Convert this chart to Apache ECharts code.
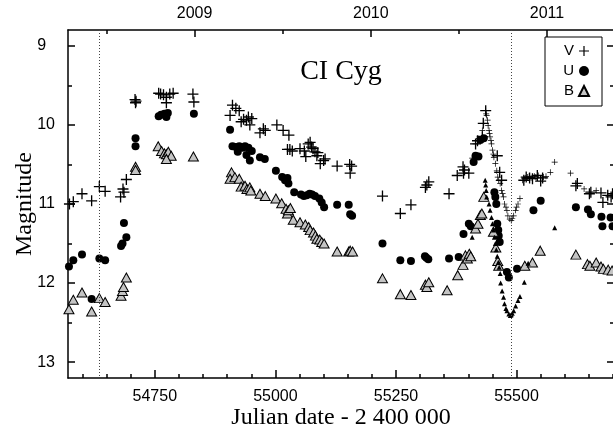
<!DOCTYPE html>
<html lang="en">
<head>
    <meta charset="UTF-8" />
    <title>CI Cyg</title>
    <script src="https://cdn.jsdelivr.net/npm/echarts@6/dist/echarts.min.js"></script>
    <style>
        html, body { margin: 0; padding: 0; background: #fff; }
        #main { width: 613px; height: 438px; }
    </style>
</head>
<body>
<div id="main"></div>
<script type="text/javascript">
    // [JD - 2400000, magnitude]
    var vData = [
        [54573, 11.00], [54581, 10.97], [54599, 10.87], [54619, 10.96], [54635, 10.78], [54647, 10.84],
        [54679, 10.91], [54684, 10.81], [54686, 10.85], [54691, 10.69], [54709, 9.68], [54710, 9.72],
        [54711, 9.70], [54758, 9.60], [54762, 9.61], [54768, 9.62], [54774, 9.65], [54774, 9.72],
        [54781, 9.61], [54788, 9.60], [54829, 9.61], [54831, 9.71], [54906, 9.88], [54911, 9.75],
        [54918, 9.79], [54925, 9.82], [54929, 9.96], [54934, 9.93], [54940, 9.94], [54944, 9.90],
        [54947, 10.00], [54951, 9.92], [54968, 10.10], [54975, 10.05], [54979, 10.07], [55003, 10.00],
        [55016, 10.07], [55028, 10.13], [55025, 10.31], [55030, 10.31], [55035, 10.33], [55051, 10.30],
        [55060, 10.33], [55063, 10.40], [55068, 10.24], [55072, 10.22], [55075, 10.28], [55078, 10.30],
        [55082, 10.34], [55086, 10.39], [55088, 10.35], [55093, 10.49], [55100, 10.45], [55103, 10.43],
        [55128, 10.52], [55154, 10.50], [55158, 10.52], [55155, 10.61], [55222, 10.90], [55259, 11.12],
        [55281, 11.01], [55311, 10.79], [55314, 10.76], [55318, 10.72], [55360, 10.87], [55377, 10.64],
        [55389, 10.53], [55390, 10.61], [55392, 10.57], [55401, 10.61], [55415, 10.24], [55419, 10.20],
        [55429, 10.15], [55431, 9.98], [55436, 9.82], [55460, 10.39], [55465, 10.60], [55469, 10.70],
        [55515, 10.70], [55520, 10.66], [55527, 10.67], [55533, 10.68], [55543, 10.64], [55550, 10.71],
        [55554, 10.67], [55623, 10.77], [55626, 10.74], [55651, 10.87], [55654, 10.85], [55675, 10.86],
        [55679, 10.98], [55689, 10.89], [55696, 10.91], [55699, 10.87]
    ];
    var vDense = [
        [55408, 10.42], [55415, 10.24], [55422, 10.17], [55429, 10.07], [55432, 9.98], [55436, 9.82],
        [55437, 9.86], [55438, 9.88], [55440, 9.94], [55441, 10.01], [55443, 10.07], [55444, 10.11],
        [55445, 10.15], [55447, 10.20], [55448, 10.24], [55450, 10.32], [55452, 10.37], [55453, 10.41],
        [55456, 10.49], [55459, 10.58], [55461, 10.66], [55463, 10.70], [55466, 10.74], [55469, 10.83],
        [55471, 10.87], [55473, 10.91], [55475, 11.00], [55478, 11.04], [55480, 11.08], [55482, 11.15],
        [55486, 11.19], [55489, 11.21], [55491, 11.18], [55494, 11.15], [55498, 11.08], [55500, 11.04],
        [55503, 11.00], [55507, 10.93], [55512, 10.70], [55516, 10.68], [55519, 10.67], [55523, 10.66],
        [55526, 10.65], [55530, 10.67], [55533, 10.67], [55537, 10.65], [55540, 10.66], [55545, 10.64],
        [55550, 10.67], [55556, 10.66], [55561, 10.65], [55570, 10.60], [55579, 10.47], [55612, 10.61],
        [55640, 10.81], [55665, 10.83]
    ];
    var uData = [
        [54572, 11.79], [54581, 11.71], [54599, 11.64], [54619, 12.20], [54635, 11.69], [54647, 11.71],
        [54680, 11.53], [54683, 11.50], [54686, 11.24], [54691, 11.42], [54710, 10.17], [54710, 10.27],
        [54758, 9.89], [54763, 9.87], [54770, 9.86], [54774, 9.90], [54777, 9.85], [54831, 9.86],
        [54906, 10.06], [54911, 10.27], [54918, 10.28], [54922, 10.34], [54925, 10.27], [54932, 10.29],
        [54937, 10.27], [54940, 10.38], [54944, 10.29], [54947, 10.45], [54951, 10.33], [54968, 10.41],
        [54978, 10.43], [55001, 10.58], [55014, 10.66], [55020, 10.70], [55025, 10.67], [55027, 10.74],
        [55039, 10.85], [55053, 10.88], [55059, 10.90], [55065, 10.89], [55071, 10.87], [55076, 10.88],
        [55082, 10.90], [55091, 10.93], [55096, 10.98], [55101, 11.04], [55128, 11.01], [55152, 11.01],
        [55155, 11.13], [55159, 11.15], [55222, 11.50], [55259, 11.71], [55281, 11.72], [55310, 11.66],
        [55313, 11.68], [55317, 11.70], [55360, 11.69], [55380, 11.67], [55390, 11.38], [55401, 11.25],
        [55405, 11.28], [55411, 10.47], [55415, 10.39], [55421, 10.40], [55425, 10.19], [55432, 10.17],
        [55454, 10.85], [55456, 10.91], [55458, 11.00], [55460, 11.25], [55462, 11.33], [55463, 11.40],
        [55465, 11.48], [55480, 11.86], [55484, 11.93], [55501, 11.82], [55535, 11.08], [55550, 10.96],
        [55623, 11.04], [55648, 11.07], [55654, 11.13], [55676, 11.16], [55678, 11.28], [55695, 11.17],
        [55699, 11.28]
    ];
    var bData = [
        [54572, 12.33], [54581, 12.21], [54599, 12.12], [54619, 12.36], [54635, 12.19], [54647, 12.24],
        [54680, 12.16], [54683, 12.10], [54685, 12.05], [54691, 11.93], [54710, 10.53], [54710, 10.57],
        [54757, 10.27], [54764, 10.33], [54770, 10.36], [54774, 10.37], [54778, 10.34], [54784, 10.39],
        [54774, 10.43], [54830, 10.40], [54909, 10.60], [54906, 10.68], [54916, 10.66], [54925, 10.68],
        [54929, 10.78], [54937, 10.77], [54941, 10.81], [54947, 10.79], [54949, 10.83], [54968, 10.87],
        [54979, 10.90], [55001, 10.93], [55013, 10.99], [55022, 11.06], [55025, 11.12], [55027, 11.08],
        [55031, 11.05], [55037, 11.20], [55051, 11.23], [55062, 11.26], [55069, 11.29], [55072, 11.33],
        [55079, 11.36], [55083, 11.40], [55086, 11.44], [55092, 11.45], [55096, 11.48], [55101, 11.50],
        [55128, 11.60], [55152, 11.60], [55155, 11.59], [55160, 11.60], [55222, 11.94], [55259, 12.14],
        [55281, 12.15], [55311, 12.02], [55314, 12.05], [55318, 11.99], [55356, 12.09], [55378, 11.90],
        [55389, 11.77], [55394, 11.65], [55398, 11.69], [55402, 11.63], [55405, 11.66], [55415, 11.31],
        [55420, 11.25], [55425, 11.14], [55428, 11.12], [55432, 10.91], [55452, 11.35], [55457, 11.55],
        [55461, 11.72], [55463, 11.78], [55517, 11.78], [55533, 11.74], [55549, 11.59], [55623, 11.64],
        [55647, 11.76], [55652, 11.78], [55665, 11.74], [55675, 11.79], [55680, 11.82], [55690, 11.83],
        [55698, 11.84]
    ];
    var bDense = [
        [55408, 11.42], [55435, 10.70], [55436, 10.76], [55437, 10.83], [55438, 10.91], [55443, 11.00],
        [55445, 11.08], [55448, 11.17], [55450, 11.25], [55452, 11.33], [55454, 11.42], [55456, 11.50],
        [55458, 11.58], [55460, 11.66], [55462, 11.74], [55464, 11.80], [55466, 11.88], [55467, 12.00],
        [55470, 12.10], [55473, 12.18], [55475, 12.26], [55478, 12.32], [55480, 12.35], [55484, 12.39],
        [55487, 12.41], [55489, 12.40], [55491, 12.38], [55494, 12.35], [55498, 12.29], [55503, 12.22],
        [55507, 12.17], [55516, 11.99], [55524, 11.75], [55579, 11.30]
    ];
    var dottedDates = [54634, 55488];

    var xRange = [54570, 55702];
    var yRange = [8.8, 13.2];
    var xMajorTicks = [54750, 55000, 55250, 55500];
    var xMinorTicks = [54600, 54650, 54700, 54800, 54850, 54900, 54950, 55050, 55100, 55150,
        55200, 55300, 55350, 55400, 55450, 55550, 55600, 55650, 55700];
    var yearTicks = [2009, 2010, 2011];
    var halfYearTicks = [2008.5, 2009.5, 2010.5];
    var yMajorTicks = [9, 10, 11, 12, 13];
    var yMinorTicks = [9.5, 10.5, 11.5, 12.5];

    // JD of 2009-01-01 is 2454832.5
    function toYear(jd) { return 2009 + (jd - 54832.5) / 365.25; }
    function plain(v) { return String(Math.round(v)); }
    // single digits sit flush left like the two-digit labels (figure space pad)
    function magLabel(v) { var s = plain(v); return s.length < 2 ? s + '\u2007' : s; }

    var plusPath = 'path://M4.4,0H5.6V4.4H10V5.6H5.6V10H4.4V5.6H0V4.4H4.4Z';
    var lineStyle = { color: '#000', width: 1.5 };
    var nameFont = { color: '#000', fontFamily: 'Liberation Serif', fontSize: 24 };

    function xAx(pos, ticks, len, opts) {
        var a = {
            type: 'value', gridIndex: 0, position: pos,
            min: xRange[0], max: xRange[1],
            splitLine: { show: false },
            axisLine: { show: false, onZero: false },
            axisTick: { show: true, inside: true, length: len, customValues: ticks, lineStyle: lineStyle },
            axisLabel: { show: false }
        };
        return Object.assign(a, opts || {});
    }
    function yAx(pos, ticks, len, opts) {
        var a = {
            type: 'value', gridIndex: 0, position: pos, inverse: true,
            min: yRange[0], max: yRange[1],
            splitLine: { show: false },
            axisLine: { show: false, onZero: false },
            axisTick: { show: true, inside: true, length: len, customValues: ticks, lineStyle: lineStyle },
            axisLabel: { show: false }
        };
        return Object.assign(a, opts || {});
    }

    var chart = echarts.init(document.getElementById('main'), null, { renderer: 'canvas' });
    chart.setOption({
        animation: false,
        backgroundColor: '#fff',
        grid: { left: 68, top: 30, width: 546, height: 348, containLabel: false, outerBoundsMode: 'none' },
        graphic: [{
            type: 'text', x: 341, y: 72,
            style: {
                text: 'CI Cyg', fill: '#000', fontFamily: 'Liberation Serif', fontSize: 28,
                textAlign: 'center', textVerticalAlign: 'middle'
            }
        }],
        legend: {
            data: ['V', 'U', 'B'],
            orient: 'vertical', align: 'right',
            left: 545, top: 37,
            padding: [6, 12, 7, 10],
            itemGap: 4, itemWidth: 10, itemHeight: 10,
            borderColor: '#000', borderWidth: 1, borderRadius: 0,
            backgroundColor: '#fff',
            selectedMode: false,
            textStyle: { color: '#000', fontFamily: 'Liberation Sans', fontSize: 15, lineHeight: 16, width: 19 }
        },
        xAxis: [
            xAx('bottom', xMajorTicks, 8, {
                name: 'Julian date - 2 400 000', nameLocation: 'middle', nameGap: 28, nameMoveOverlap: false,
                nameTextStyle: nameFont,
                axisLine: { show: true, onZero: false, lineStyle: lineStyle },
                axisLabel: {
                    show: true, customValues: xMajorTicks, margin: 11, formatter: plain,
                    fontFamily: 'Liberation Sans', fontSize: 16, color: '#000'
                }
            }),
            xAx('bottom', xMinorTicks, 4),
            {
                type: 'value', gridIndex: 0, position: 'top',
                min: toYear(xRange[0]), max: toYear(xRange[1]),
                splitLine: { show: false },
                axisLine: { show: true, onZero: false, lineStyle: lineStyle },
                axisTick: { show: true, inside: true, length: 7, customValues: yearTicks, lineStyle: lineStyle },
                axisLabel: {
                    show: true, customValues: yearTicks, margin: 8, formatter: plain,
                    fontFamily: 'Liberation Sans', fontSize: 16, color: '#000'
                }
            },
            {
                type: 'value', gridIndex: 0, position: 'top',
                min: toYear(xRange[0]), max: toYear(xRange[1]),
                splitLine: { show: false },
                axisLine: { show: false },
                axisTick: { show: true, inside: true, length: 4, customValues: halfYearTicks, lineStyle: lineStyle },
                axisLabel: { show: false }
            }
        ],
        yAxis: [
            yAx('left', yMajorTicks, 7, {
                name: 'Magnitude', nameLocation: 'middle', nameGap: 31, nameMoveOverlap: false,
                nameTextStyle: nameFont,
                axisLine: { show: true, onZero: false, lineStyle: lineStyle },
                axisLabel: {
                    show: true, customValues: yMajorTicks, margin: 13, formatter: magLabel,
                    fontFamily: 'Liberation Sans', fontSize: 16, color: '#000'
                }
            }),
            yAx('left', yMinorTicks, 4),
            yAx('right', yMajorTicks, 7, { axisLine: { show: true, onZero: false, lineStyle: lineStyle } }),
            yAx('right', yMinorTicks, 4)
        ],
        series: [
            {
                name: 'V', type: 'scatter', symbol: plusPath, symbolSize: 11,
                itemStyle: { color: '#000', opacity: 1 },
                data: vData,
                markLine: {
                    silent: true, symbol: 'none', label: { show: false },
                    lineStyle: { color: '#444', type: [1, 2], width: 1 },
                    data: dottedDates.map(function (d) { return { xAxis: d }; })
                }
            },
            {
                name: 'U', type: 'scatter', symbol: 'circle', symbolSize: 8,
                itemStyle: { color: '#000', opacity: 1 },
                data: uData
            },
            {
                name: 'B', type: 'scatter', symbol: 'triangle', symbolSize: [10, 9],
                itemStyle: { color: '#c4c4c4', borderColor: '#000', borderWidth: 1, opacity: 1 },
                data: bData
            },
            {
                name: 'V', type: 'scatter', symbol: plusPath, symbolSize: 6,
                itemStyle: { color: '#000', opacity: 1 },
                data: vDense
            },
            {
                name: 'B', type: 'scatter', symbol: 'triangle', symbolSize: 5,
                itemStyle: { color: '#000', opacity: 1 },
                data: bDense
            }
        ]
    });
</script>
</body>
</html>
